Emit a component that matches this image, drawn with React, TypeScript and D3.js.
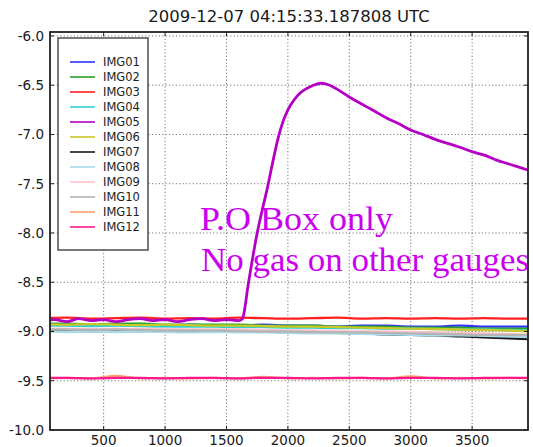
import React from 'react';
import * as d3 from 'd3';

// ── data ────────────────────────────────────────────────────────────────
const TITLE = '2009-12-07 04:15:33.187808 UTC';
const NAMES = ['IMG01', 'IMG02', 'IMG03', 'IMG04', 'IMG05', 'IMG06', 'IMG07', 'IMG08', 'IMG09', 'IMG10', 'IMG11', 'IMG12'];
const COLORS = ['#3030ff', '#2ca02c', '#ff2020', '#30d0d0', '#b400c4', '#c8c828', '#1a1a1a', '#a8dcec', '#ffc4cc', '#b4b4b4', '#ffa070', '#ff1a8c'];
const X_TICKS = [500, 1000, 1500, 2000, 2500, 3000, 3500];
const Y_TICKS = [-6.0, -6.5, -7.0, -7.5, -8.0, -8.5, -9.0, -9.5, -10.0];

// sample positions of the quiet gauges
const X_BASE = [0, 200, 400, 600, 800, 1000, 1200, 1400, 1600, 1800, 2000, 2200, 2400, 2600, 2800, 3000, 3200, 3400, 3600, 3800, 4000];
const IMG01 = [-8.93, -8.93, -8.94, -8.93, -8.93, -8.94, -8.93, -8.94, -8.94, -8.93, -8.94, -8.94, -8.95, -8.94, -8.94, -8.95, -8.95, -8.94, -8.95, -8.95, -8.95];
const IMG02 = [-8.92, -8.92, -8.93, -8.92, -8.92, -8.93, -8.93, -8.93, -8.93, -8.94, -8.94, -8.94, -8.95, -8.95, -8.95, -8.96, -8.96, -8.96, -8.97, -8.97, -8.97];
const IMG03 = [-8.865, -8.86, -8.87, -8.865, -8.86, -8.87, -8.865, -8.87, -8.86, -8.865, -8.87, -8.865, -8.86, -8.87, -8.865, -8.87, -8.865, -8.87, -8.865, -8.87, -8.87];
const IMG04 = [-8.94, -8.94, -8.945, -8.94, -8.945, -8.95, -8.95, -8.95, -8.955, -8.955, -8.96, -8.96, -8.965, -8.965, -8.97, -8.97, -8.975, -8.98, -8.98, -8.985, -8.99];
const IMG06 = [-8.925, -8.93, -8.925, -8.93, -8.935, -8.93, -8.935, -8.94, -8.94, -8.945, -8.95, -8.95, -8.955, -8.96, -8.965, -8.97, -8.975, -8.98, -8.985, -8.99, -9.0];
const IMG07 = [-8.99, -8.99, -8.995, -8.99, -8.995, -8.99, -9.0, -8.995, -9.0, -9.0, -9.005, -9.01, -9.015, -9.02, -9.03, -9.035, -9.04, -9.05, -9.06, -9.07, -9.08];
const IMG08 = [-9.0, -9.005, -9.0, -9.005, -9.0, -9.005, -9.01, -9.005, -9.01, -9.01, -9.015, -9.02, -9.02, -9.025, -9.03, -9.035, -9.04, -9.04, -9.045, -9.05, -9.06];
const IMG09 = [-8.97, -8.97, -8.975, -8.97, -8.975, -8.975, -8.98, -8.98, -8.98, -8.985, -8.99, -8.99, -8.995, -9.0, -9.0, -9.005, -9.01, -9.015, -9.02, -9.025, -9.03];
const IMG10 = [-8.98, -8.98, -8.985, -8.98, -8.985, -8.99, -8.99, -8.99, -8.995, -9.0, -9.0, -9.005, -9.01, -9.01, -9.015, -9.02, -9.025, -9.03, -9.035, -9.035, -9.04];
const IMG11 = [-9.475, -9.47, -9.475, -9.45, -9.475, -9.47, -9.475, -9.47, -9.475, -9.46, -9.475, -9.47, -9.475, -9.47, -9.475, -9.455, -9.475, -9.47, -9.475, -9.47, -9.475];
const IMG12 = [-9.47, -9.47, -9.475, -9.47, -9.47, -9.475, -9.47, -9.47, -9.475, -9.47, -9.47, -9.475, -9.47, -9.47, -9.475, -9.47, -9.47, -9.475, -9.47, -9.47, -9.47];

// the P.O Box gauge
const X05 = [0, 100, 200, 300, 400, 500, 600, 700, 800, 900, 1000, 1100, 1200, 1300, 1400, 1500, 1600, 1630, 1650, 1670, 1700, 1750, 1800, 1830, 1870, 1920, 1960, 2000, 2050, 2100, 2150, 2200, 2270, 2330, 2400, 2500, 2600, 2700, 2800, 2900, 3000, 3100, 3200, 3300, 3400, 3500, 3600, 3700, 3800, 3900, 4000];
const IMG05 = [-8.89, -8.88, -8.9, -8.87, -8.89, -8.88, -8.9, -8.88, -8.87, -8.89, -8.88, -8.9, -8.88, -8.87, -8.89, -8.88, -8.89, -8.87, -8.76, -8.58, -8.35, -8.0, -7.72, -7.56, -7.32, -7.04, -6.87, -6.75, -6.65, -6.58, -6.535, -6.505, -6.48, -6.495, -6.54, -6.62, -6.69, -6.76, -6.83, -6.89, -6.955, -7.0, -7.05, -7.09, -7.13, -7.175, -7.21, -7.26, -7.3, -7.34, -7.38];

const NOTE = ['P.O Box only', 'No gas on other gauges'];

const BASE_SERIES = [IMG01, IMG02, IMG03, IMG04, null, IMG06, IMG07, IMG08, IMG09, IMG10, IMG11, IMG12];

export default function App() {
  const W = 533, H = 447;
  const L = 50, R = 528, T = 32, B = 430;
  const x = d3.scaleLinear().domain([63, 3955]).range([L, R]);
  const y = d3.scaleLinear().domain([-10, -5.96]).range([B, T]);

  const line = d3.line<[number, number]>().x(d => x(d[0])).y(d => y(d[1])).curve(d3.curveMonotoneX);
  const pathOf = (xs: number[], ys: number[]) => line(xs.map((v, i) => [v, ys[i]] as [number, number])) || '';

  const series = NAMES.map((name, i) => ({
    name,
    color: COLORS[i],
    d: i === 4 ? pathOf(X05, IMG05) : pathOf(X_BASE, BASE_SERIES[i] as number[]),
    width: i === 4 ? 2.8 : 2.3,
  }));

  const grid = { stroke: '#777', strokeWidth: 1, strokeDasharray: '1.2,2.2' };
  const tickFont = { fontFamily: 'DejaVu Sans', fontSize: 13.5, fill: '#1a1a1a' };

  return (
    <svg width={W} height={H} style={{ position: 'absolute', left: 0, top: 0, background: '#fff' }}>
      <defs>
        <clipPath id="plot"><rect x={L} y={T} width={R - L} height={B - T} /></clipPath>
      </defs>
      <rect x={0} y={0} width={W} height={H} fill="#fff" />
      <text x={(L + R) / 2} y={22} textAnchor="middle" fontFamily="DejaVu Sans" fontSize={16.5} fill="#1a1a1a">{TITLE}</text>

      {/* grid */}
      {X_TICKS.map(t => <line key={'gx' + t} x1={x(t)} x2={x(t)} y1={T} y2={B} {...grid} />)}
      {Y_TICKS.filter(t => t > -10).map(t => <line key={'gy' + t} x1={L} x2={R} y1={y(t)} y2={y(t)} {...grid} />)}

      {/* annotation */}
      <g fontFamily="Liberation Serif" fontSize={33} fill="#cc00f0">
        <text x={200} y={230} textLength={193} lengthAdjust="spacingAndGlyphs">{NOTE[0]}</text>
        <text x={201} y={271} textLength={328} lengthAdjust="spacingAndGlyphs">{NOTE[1]}</text>
      </g>

      {/* series */}
      <g clipPath="url(#plot)" fill="none" strokeLinejoin="round">
        {series.map(s => <path key={s.name} d={s.d} stroke={s.color} strokeWidth={s.width} />)}
      </g>

      {/* ticks */}
      {X_TICKS.map(t => (
        <g key={'tx' + t}>
          <line x1={x(t)} x2={x(t)} y1={B} y2={B - 4} stroke="#222" />
          <line x1={x(t)} x2={x(t)} y1={T} y2={T + 4} stroke="#222" />
          <text x={x(t)} y={445} textAnchor="middle" {...tickFont}>{t}</text>
        </g>
      ))}
      {Y_TICKS.map(t => (
        <g key={'ty' + t}>
          <line x1={L} x2={L + 4} y1={y(t)} y2={y(t)} stroke="#222" />
          <line x1={R} x2={R - 4} y1={y(t)} y2={y(t)} stroke="#222" />
          <text x={44} y={y(t)} textAnchor="end" dominantBaseline="central" {...tickFont}>{t.toFixed(1)}</text>
        </g>
      ))}

      {/* frame */}
      <rect x={L} y={T} width={R - L} height={B - T} fill="none" stroke="#222" strokeWidth={1.8} />

      {/* legend */}
      <g>
        <rect x={58} y={38} width={90} height={212} fill="#fff" stroke="#333" strokeWidth={1.3} />
        {series.map((s, i) => (
          <g key={'lg' + s.name} transform={`translate(0,${62 + i * 15})`}>
            <line x1={70} x2={95} y1={0} y2={0} stroke={s.color} strokeWidth={2} opacity={0.8} />
            <text x={103} y={0} dominantBaseline="central" fontFamily="DejaVu Sans" fontSize={11.5} fill="#222">{s.name}</text>
          </g>
        ))}
      </g>
    </svg>
  );
}
